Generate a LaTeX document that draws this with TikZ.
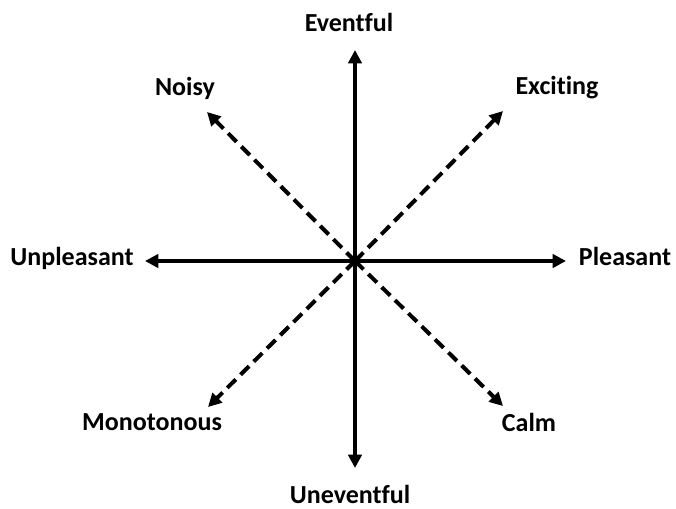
\documentclass[tikz,border=0pt]{standalone}
\usepackage{fontspec}
\setmainfont{Carlito}[Ligatures=NoCommon]
\usetikzlibrary{arrows.meta}
\begin{document}
\begin{tikzpicture}[x=0.75pt,y=-0.75pt,
    axis/.style={line width=3pt, -{Triangle[length=10pt,width=10pt]}},
    diag/.style={axis, dash pattern=on 9pt off 5pt},
    lbl/.style={font=\fontsize{19.5}{22}\selectfont\bfseries, inner sep=0pt}]
            \useasboundingbox (0,0) rectangle (676,508);

            \coordinate (c) at (355,261);
            \coordinate (up) at (355,50);
            \coordinate (down) at (355,468);
            \coordinate (left) at (145,261);
            \coordinate (right) at (566,261);
            \coordinate (ul) at (207,112);
            \coordinate (ur) at (503,111);
            \coordinate (dl) at (208,407);
            \coordinate (dr) at (503,406);

            \draw[axis] (c) -- (up);
            \draw[axis] (c) -- (down);
            \draw[axis] (c) -- (left);
            \draw[axis] (c) -- (right);
            \draw[diag] (c) -- (ul);
            \draw[diag] (c) -- (ur);
            \draw[diag] (c) -- (dl);
            \draw[diag] (c) -- (dr);

            \node[lbl] (eventful) at (349,22) {Eventful};
            \node[lbl] (noisy) at (185,88) {Noisy};
            \node[lbl] (exciting) at (557,88) {Exciting};
            \node[lbl] (unpleasant) at (72,258) {Unpleasant};
            \node[lbl] (pleasant) at (625,256) {Pleasant};
            \node[lbl] (monotonous) at (152,422) {Monotonous};
            \node[lbl] (calm) at (529,422) {Calm};
            \node[lbl] (uneventful) at (350,494) {Uneventful};
        \end{tikzpicture}
\end{document}
